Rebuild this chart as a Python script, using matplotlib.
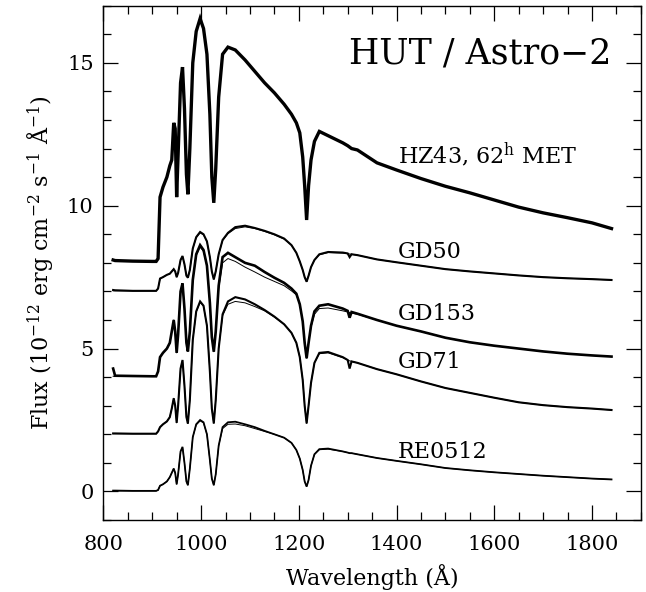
import matplotlib
matplotlib.use("Agg")
import matplotlib.pyplot as plt
from matplotlib.ticker import MultipleLocator

# wavelength grid (Angstrom) shared by all spectra
wave = [820, 824, 860, 900, 908, 912, 916, 922, 930, 936,
        940, 944, 947, 950, 953, 958, 962, 966, 970, 973,
        977, 983, 990, 998, 1005, 1012, 1018, 1022, 1026, 1030,
        1036, 1044, 1055, 1070, 1090, 1110, 1130, 1150, 1170, 1185,
        1195, 1202, 1208, 1212, 1216, 1220, 1225, 1232, 1242, 1260,
        1290, 1300, 1304, 1308, 1320, 1360, 1400, 1450, 1500, 1550,
        1600, 1650, 1700, 1750, 1800, 1840]

# observed fluxes (offset as plotted)
hz43 = [8.10, 8.08, 8.06, 8.05, 8.05, 8.15, 10.30, 10.65, 11.00, 11.40,
        11.60, 12.90, 12.70, 10.30, 11.80, 14.30, 14.85, 13.40, 11.10, 10.40,
        12.00, 15.00, 16.10, 16.55, 16.20, 15.30, 13.20, 11.00, 10.10, 11.30,
        13.80, 15.30, 15.55, 15.45, 15.10, 14.70, 14.30, 13.95, 13.55, 13.20,
        12.90, 12.55, 11.70, 10.70, 9.50, 10.70, 11.60, 12.25, 12.60, 12.45,
        12.20, 12.10, 12.05, 12.00, 11.95, 11.50, 11.25, 10.95, 10.68, 10.45,
        10.20, 9.95, 9.75, 9.58, 9.40, 9.20]
gd50 = [7.05, 7.04, 7.02, 7.02, 7.02, 7.10, 7.45, 7.50, 7.58, 7.62,
        7.70, 7.78, 7.70, 7.50, 7.65, 8.10, 8.24, 7.95, 7.55, 7.48,
        7.75, 8.50, 8.90, 9.08, 9.00, 8.75, 8.20, 7.70, 7.42, 7.70,
        8.30, 8.80, 9.05, 9.25, 9.30, 9.22, 9.12, 9.00, 8.85, 8.62,
        8.35, 8.05, 7.75, 7.50, 7.34, 7.55, 7.85, 8.10, 8.30, 8.38,
        8.36, 8.33, 8.20, 8.30, 8.27, 8.12, 8.02, 7.90, 7.78, 7.70,
        7.63, 7.56, 7.50, 7.46, 7.43, 7.40]
gd153 = [4.30, 4.05, 4.04, 4.03, 4.03, 4.20, 4.70, 4.85, 5.00, 5.20,
         5.60, 6.00, 5.60, 4.85, 5.50, 7.00, 7.28, 6.40, 5.20, 4.90,
         5.60, 7.40, 8.30, 8.62, 8.45, 7.90, 6.60, 5.40, 4.89, 5.60,
         7.20, 8.20, 8.35, 8.20, 8.00, 7.90, 7.68, 7.48, 7.30, 7.10,
         6.92, 6.55, 5.95, 5.20, 4.66, 5.20, 5.80, 6.30, 6.50, 6.55,
         6.40, 6.32, 6.08, 6.28, 6.22, 6.00, 5.80, 5.60, 5.38, 5.22,
         5.10, 5.00, 4.90, 4.82, 4.76, 4.72]
gd71 = [2.03, 2.03, 2.02, 2.02, 2.02, 2.10, 2.25, 2.35, 2.45, 2.60,
        2.90, 3.26, 3.00, 2.40, 3.00, 4.30, 4.60, 3.70, 2.60, 2.38,
        3.20, 5.30, 6.30, 6.65, 6.50, 5.80, 4.20, 2.90, 2.38, 3.20,
        5.00, 6.20, 6.65, 6.80, 6.72, 6.55, 6.35, 6.12, 5.85, 5.55,
        5.20, 4.70, 3.90, 3.00, 2.38, 3.00, 3.80, 4.50, 4.85, 4.88,
        4.70, 4.60, 4.30, 4.55, 4.50, 4.28, 4.10, 3.85, 3.62, 3.45,
        3.28, 3.12, 3.02, 2.95, 2.90, 2.85]
re0512 = [0.03, 0.03, 0.02, 0.02, 0.02, 0.05, 0.20, 0.25, 0.35, 0.50,
          0.65, 0.80, 0.65, 0.25, 0.60, 1.40, 1.56, 1.00, 0.35, 0.22,
          0.80, 1.90, 2.35, 2.50, 2.42, 2.00, 1.10, 0.45, 0.22, 0.60,
          1.60, 2.25, 2.42, 2.44, 2.35, 2.25, 2.12, 2.00, 1.88, 1.70,
          1.45, 1.15, 0.75, 0.35, 0.17, 0.40, 0.90, 1.30, 1.48, 1.50,
          1.40, 1.36, 1.34, 1.34, 1.30, 1.17, 1.07, 0.95, 0.82, 0.74,
          0.67, 0.61, 0.55, 0.50, 0.45, 0.42]

# model atmospheres (thin lines)
gd50_model = [7.02, 7.02, 7.02, 7.02, 7.02, 7.10, 7.45, 7.50, 7.58, 7.62,
              7.70, 7.78, 7.70, 7.50, 7.65, 8.10, 8.22, 7.95, 7.55, 7.48,
              7.75, 8.50, 8.88, 9.05, 8.98, 8.75, 8.20, 7.70, 7.42, 7.70,
              8.30, 8.78, 9.02, 9.20, 9.26, 9.20, 9.10, 8.98, 8.83, 8.62,
              8.35, 8.05, 7.75, 7.50, 7.34, 7.55, 7.85, 8.10, 8.28, 8.36,
              8.34, 8.32, 8.31, 8.30, 8.27, 8.12, 8.02, 7.90, 7.78, 7.70,
              7.63, 7.56, 7.50, 7.46, 7.43, 7.40]
gd153_model = [4.03, 4.03, 4.03, 4.03, 4.03, 4.20, 4.70, 4.85, 5.00, 5.20,
               5.60, 6.00, 5.60, 4.85, 5.50, 7.00, 7.25, 6.40, 5.20, 4.90,
               5.60, 7.40, 8.25, 8.55, 8.40, 7.90, 6.60, 5.40, 4.89, 5.60,
               7.10, 8.00, 8.15, 8.05, 7.85, 7.68, 7.50, 7.35, 7.20, 7.02,
               6.88, 6.55, 5.95, 5.20, 4.66, 5.20, 5.75, 6.20, 6.40, 6.42,
               6.32, 6.28, 6.26, 6.24, 6.20, 6.00, 5.80, 5.60, 5.38, 5.22,
               5.10, 5.00, 4.90, 4.82, 4.76, 4.72]
gd71_model = [2.02, 2.02, 2.02, 2.02, 2.02, 2.10, 2.25, 2.35, 2.45, 2.60,
              2.90, 3.26, 3.00, 2.40, 3.00, 4.30, 4.58, 3.70, 2.60, 2.38,
              3.20, 5.30, 6.28, 6.62, 6.48, 5.80, 4.20, 2.90, 2.38, 3.20,
              5.00, 6.15, 6.55, 6.65, 6.60, 6.47, 6.32, 6.10, 5.85, 5.55,
              5.20, 4.70, 3.90, 3.00, 2.38, 3.00, 3.80, 4.50, 4.82, 4.85,
              4.68, 4.60, 4.57, 4.55, 4.50, 4.28, 4.10, 3.85, 3.62, 3.45,
              3.28, 3.12, 3.02, 2.95, 2.90, 2.85]
re0512_model = [0.02, 0.02, 0.02, 0.02, 0.02, 0.05, 0.20, 0.25, 0.35, 0.50,
                0.65, 0.80, 0.65, 0.25, 0.60, 1.40, 1.54, 1.00, 0.35, 0.22,
                0.80, 1.90, 2.33, 2.47, 2.40, 2.00, 1.10, 0.45, 0.22, 0.60,
                1.60, 2.20, 2.35, 2.36, 2.30, 2.20, 2.10, 2.00, 1.88, 1.70,
                1.45, 1.15, 0.75, 0.35, 0.17, 0.40, 0.90, 1.30, 1.46, 1.48,
                1.40, 1.36, 1.34, 1.34, 1.30, 1.17, 1.07, 0.95, 0.82, 0.74,
                0.67, 0.61, 0.55, 0.50, 0.45, 0.42]

star_names = ["HZ43, 62$^{\\rm h}$ MET", "GD50", "GD153", "GD71", "RE0512"]
label_y = [11.49, 8.17, 6.00, 4.32, 1.17]

plt.rcParams['font.family'] = 'DejaVu Serif'
plt.rcParams['mathtext.fontset'] = 'dejavuserif'

fig = plt.figure(figsize=(6.46, 5.92), dpi=100)
ax = fig.add_axes([0.160, 0.1216, 0.832, 0.8688])

observed = [hz43, gd50, gd153, gd71, re0512]
widths = [2.4, 1.5, 1.9, 1.5, 1.3]
for flux, lw in zip(observed, widths):
    ax.plot(wave, flux, color='black', lw=lw, solid_joinstyle='miter')

for model in [gd50_model, gd153_model, gd71_model, re0512_model]:
    ax.plot(wave, model, color='black', lw=0.7)

for name, y in zip(star_names, label_y):
    ax.text(1403, y, name, fontsize=16, ha='left', va='baseline')

ax.text(1572, 14.98, "HUT / Astro\u22122", fontsize=25, ha='center', va='baseline')

ax.set_xlim(800, 1900)
ax.set_ylim(-1, 17)
ax.xaxis.set_major_locator(MultipleLocator(200))
ax.xaxis.set_minor_locator(MultipleLocator(50))
ax.yaxis.set_major_locator(MultipleLocator(5))
ax.yaxis.set_minor_locator(MultipleLocator(1))
ax.tick_params(which='both', direction='in', top=True, right=True, width=0.9)
ax.tick_params(which='major', length=11, labelsize=15)
ax.tick_params(which='minor', length=5.5)
ax.tick_params(axis='x', pad=11)
ax.tick_params(axis='y', pad=7)
for s in ax.spines.values():
    s.set_linewidth(1.0)

ax.set_xlabel("Wavelength (\u00c5)", fontsize=16, labelpad=7)
ax.set_ylabel("Flux (10$^{-12}$ erg cm$^{-2}$ s$^{-1}$ \u00c5$^{-1}$)", fontsize=16, labelpad=8)

fig.savefig("out.png", dpi=100)
